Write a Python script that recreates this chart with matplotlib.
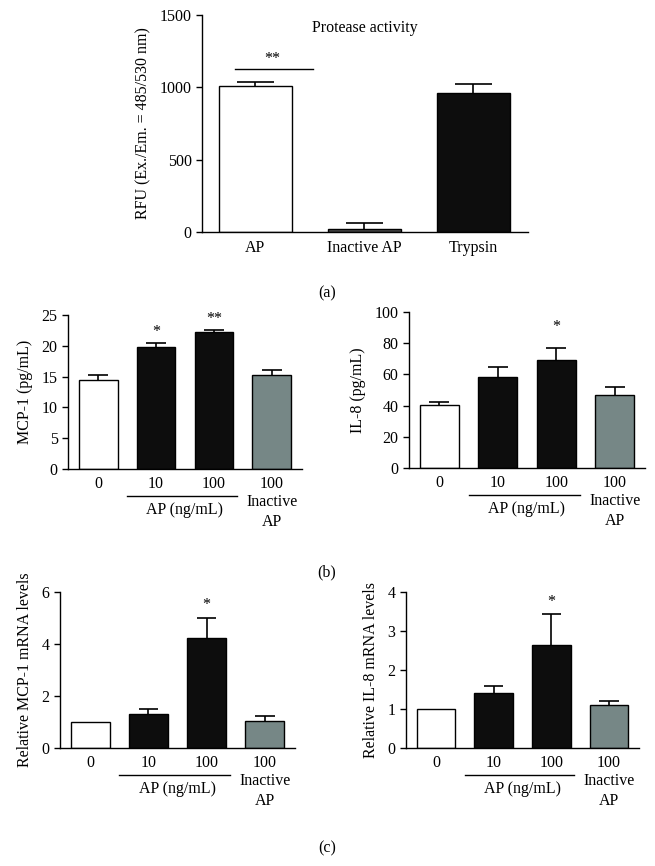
import numpy as np
import matplotlib
matplotlib.use('Agg')
import matplotlib.pyplot as plt
from matplotlib.transforms import offset_copy

plt.rcParams['font.family'] = ['Liberation Serif', 'DejaVu Serif']
plt.rcParams['font.size'] = 11.5

# data
prot_labels = ['AP', 'Inactive AP', 'Trypsin']
prot_vals = [1010, 20, 960]
prot_err = [30, 40, 65]

dose_labels = ['0', '10', '100', '100']
mcp1_vals = [14.5, 19.8, 22.3, 15.3]
mcp1_err = [0.8, 0.6, 0.3, 0.8]
il8_vals = [40.5, 58.5, 69.5, 46.5]
il8_err = [1.5, 6.5, 7.5, 5.5]
mcp1_mrna = [1.0, 1.3, 4.25, 1.05]
mcp1_mrna_err = [0.0, 0.2, 0.75, 0.18]
il8_mrna = [1.0, 1.4, 2.65, 1.1]
il8_mrna_err = [0.0, 0.2, 0.78, 0.1]

WHITE = 'white'
BLACK = '#0d0d0d'
GREY = '#768786'
FS = 11.5

W, H = 655, 866
fig = plt.figure(figsize=(W / 100, H / 100), dpi=100)


def px_axes(l, t, r, b):
	return fig.add_axes([l / W, 1 - b / H, (r - l) / W, (b - t) / H])


def style(ax):
	for s in ['top', 'right']:
		ax.spines[s].set_visible(False)
	for s in ['left', 'bottom']:
		ax.spines[s].set_linewidth(1.0)
	ax.tick_params(direction='out', length=4, width=1.0, labelsize=FS)


def bars(ax, vals, errs, colors, width, cap):
	x = np.arange(len(vals))
	v = np.array(vals)
	e = np.array(errs)
	m = e > 0
	# upper error only, drawn behind the bars
	ax.vlines(x[m], v[m], v[m] + e[m], color='black', lw=1.2, zorder=1)
	ax.hlines(v[m] + e[m], x[m] - cap, x[m] + cap, color='black', lw=1.2, zorder=1)
	ax.bar(x, vals, width=width, color=colors, edgecolor='black', linewidth=1.0, zorder=2)
	return x


def dose_axis(ax, ylabel, yt):
	style(ax)
	ax.set_xlim(-0.52, 3.52)
	ax.set_xticks(np.arange(4))
	ax.set_xticklabels(dose_labels)
	ax.tick_params(axis='x', length=0, pad=5)
	ax.set_yticks(yt)
	ax.set_ylim(yt[0], yt[-1])
	ax.set_ylabel(ylabel, fontsize=FS, labelpad=6)
	tr = ax.get_xaxis_transform()
	line_tr = offset_copy(tr, fig=fig, y=-27, units='dots')
	ax.plot([0.5, 2.4], [0, 0], color='black', lw=1.0, transform=line_tr, clip_on=False)
	ax.text(1.5, 0, 'AP (ng/mL)', ha='center', va='center', fontsize=FS,
			transform=offset_copy(tr, fig=fig, y=-41, units='dots'))
	ax.text(3, 0, 'Inactive', ha='center', va='center', fontsize=FS,
			transform=offset_copy(tr, fig=fig, y=-33, units='dots'))
	ax.text(3, 0, 'AP', ha='center', va='center', fontsize=FS,
			transform=offset_copy(tr, fig=fig, y=-53, units='dots'))


dose_colors = [WHITE, BLACK, BLACK, GREY]

# (a) protease activity
ax = px_axes(202, 15, 528, 232)
style(ax)
bars(ax, prot_vals, prot_err, [WHITE, '#4a4a4a', BLACK], 0.67, 0.17)
ax.set_xlim(-0.49, 2.5)
ax.set_ylim(0, 1500)
ax.set_yticks([0, 500, 1000, 1500])
ax.set_xticks([0, 1, 2])
ax.set_xticklabels(prot_labels)
ax.tick_params(axis='x', length=0, pad=6)
ax.set_ylabel('RFU (Ex./Em. = 485/530 nm)', fontsize=FS, labelpad=6)
ax.text(1.0, 1410, 'Protease activity', ha='center', va='center', fontsize=FS)
ax.plot([-0.19, 0.53], [1126, 1126], color='black', lw=1.0)
ax.text(0.15, 1140, '**', ha='center', va='bottom', fontsize=FS)
fig.text(327 / W, 1 - 293 / H, '(a)', ha='center', va='center', fontsize=FS)

# (b) MCP-1 protein
ax = px_axes(68, 315, 302, 469)
bars(ax, mcp1_vals, mcp1_err, dose_colors, 0.67, 0.17)
dose_axis(ax, 'MCP-1 (pg/mL)', [0, 5, 10, 15, 20, 25])
ax.text(1, 21.0, '*', ha='center', va='bottom', fontsize=FS)
ax.text(2, 23.0, '**', ha='center', va='bottom', fontsize=FS)

# (b) IL-8 protein
ax = px_axes(409, 312, 645, 468)
bars(ax, il8_vals, il8_err, dose_colors, 0.67, 0.17)
dose_axis(ax, 'IL-8 (pg/mL)', [0, 20, 40, 60, 80, 100])
ax.text(2, 85, '*', ha='center', va='bottom', fontsize=FS)
fig.text(327 / W, 1 - 572 / H, '(b)', ha='center', va='center', fontsize=FS)

# (c) MCP-1 mRNA
ax = px_axes(60, 592, 295, 748)
bars(ax, mcp1_mrna, mcp1_mrna_err, dose_colors, 0.67, 0.17)
dose_axis(ax, 'Relative MCP-1 mRNA levels', [0, 2, 4, 6])
ax.text(2, 5.2, '*', ha='center', va='bottom', fontsize=FS)

# (c) IL-8 mRNA
ax = px_axes(406, 592, 639, 748)
bars(ax, il8_mrna, il8_mrna_err, dose_colors, 0.67, 0.17)
dose_axis(ax, 'Relative IL-8 mRNA levels', [0, 1, 2, 3, 4])
ax.text(2, 3.55, '*', ha='center', va='bottom', fontsize=FS)
fig.text(327 / W, 1 - 848 / H, '(c)', ha='center', va='center', fontsize=FS)

fig.savefig('out.png', dpi=100)
